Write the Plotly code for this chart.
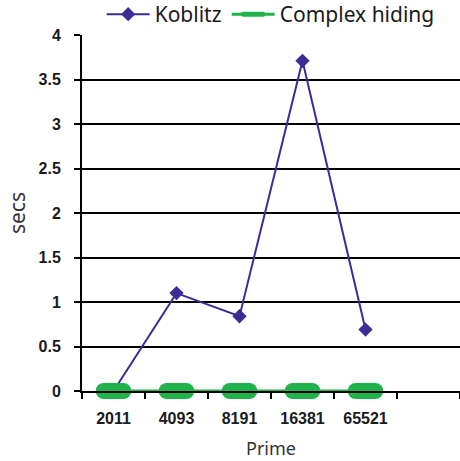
import plotly.graph_objects as go

primes = ["2011", "4093", "8191", "16381", "65521"]
koblitz = [0.0, 1.1, 0.84, 3.71, 0.69]
complex_hiding = [0.0, 0.0, 0.0, 0.0, 0.0]
y_ticks = [0, 0.5, 1, 1.5, 2, 2.5, 3, 3.5, 4]
y_tick_text = ["0", "0.5", "1", "1.5", "2", "2.5", "3", "3.5", "4"]

xi = list(range(len(primes)))

fig = go.Figure()
fig.add_trace(go.Scatter(
    x=xi, y=koblitz, name="Koblitz", mode="lines+markers",
    line=dict(color="#3c2d94", width=2),
    marker=dict(symbol="diamond", size=11, color="#3c2d94"),
))
fig.add_trace(go.Scatter(
    x=xi, y=complex_hiding, name="Complex hiding", mode="lines+markers",
    line=dict(color="#21b24b", width=3),
    marker=dict(symbol="line-ew", size=14, color="#21b24b",
                line=dict(color="#21b24b", width=16)),
    cliponaxis=False,
))

fig.update_layout(
    width=460, height=461,
    margin=dict(l=82, r=0, t=35, b=70, autoexpand=False),
    paper_bgcolor="white", plot_bgcolor="white",
    showlegend=True,
    legend=dict(orientation="h", x=0.052, xanchor="left", y=1.115, yanchor="top",
                font=dict(family="Noto Sans", size=21, color="#1a1a1a"),
                itemwidth=43,
                bgcolor="rgba(0,0,0,0)", tracegroupgap=0),
    xaxis=dict(
        range=[-0.5, 5.5], tickvals=xi, ticktext=primes,
        ticks="", showgrid=False, zeroline=False,
        showline=True, linecolor="black", linewidth=2,
        tickfont=dict(family="Liberation Sans", size=16, color="#1a1a1a", weight="bold"),
        ticklabelstandoff=12,
        minor=dict(tickmode="linear", tick0=0.5, dtick=1, ticks="outside",
                   ticklen=6, tickwidth=2, tickcolor="black", showgrid=False),
        title=dict(text="Prime", font=dict(family="Noto Sans", size=18, color="#333"), standoff=16),
    ),
    yaxis=dict(
        range=[0, 4], tickvals=y_ticks, ticktext=y_tick_text,
        ticks="outside", ticklen=6, tickwidth=2, tickcolor="black",
        showgrid=True, gridcolor="black", gridwidth=2, zeroline=False,
        showline=True, linecolor="black", linewidth=2,
        tickfont=dict(family="Liberation Sans", size=16, color="#1a1a1a", weight="bold"),
        ticklabelstandoff=10,
        title=dict(text="secs", font=dict(family="Noto Sans", size=21, color="#333"), standoff=7),
    ),
)

post = """
document.body.style.margin = '0';
document.body.style.padding = '0';
function fixCaps(){
  var traces = document.querySelectorAll('.scatterlayer .trace');
  if (traces.length > 1) {
    traces[1].querySelectorAll('.point').forEach(function(p){ p.style.strokeLinecap = 'round'; });
  }
  var leg = document.querySelectorAll('.legend .traces');
  if (leg.length > 1) {
    leg[1].querySelectorAll('.scatterpts').forEach(function(p){ p.style.strokeLinecap = 'round'; });
  }
}
fixCaps();
var gd = document.getElementsByClassName('plotly-graph-div')[0];
if (gd && gd.on) { gd.on('plotly_afterplot', fixCaps); }
"""
fig.write_html("out.html", post_script=post, config={"displayModeBar": False})
